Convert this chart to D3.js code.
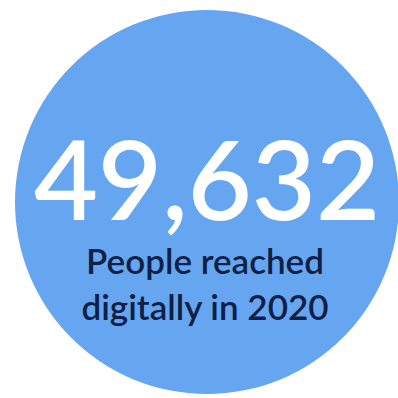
<!DOCTYPE html>
<html>
<head>
<meta charset="utf-8">
<script src="https://cdn.jsdelivr.net/npm/d3@7"></script>
<style>
  html, body { margin: 0; padding: 0; background: #ffffff; }
  svg { display: block; }
</style>
</head>
<body>
<svg id="chart" width="398" height="398"></svg>
<script>
// Headline figure and its caption
const metricValues = [49632];
const captionLines = ["People reached", "digitally in 2020"];

const width = 398, height = 398;
const svg = d3.select("#chart");

const cx = 207, cy = 202, r = 192;

// Bubble sized on a sqrt scale so the single value fills the disc
const rScale = d3.scaleSqrt().domain([0, d3.max(metricValues)]).range([0, r]);

svg.selectAll("circle.bubble")
  .data(metricValues)
  .join("circle")
  .attr("class", "bubble")
  .attr("cx", cx)
  .attr("cy", cy)
  .attr("r", d => rScale(d))
  .attr("fill", "#66a6f0");

const fmt = d3.format(",");

svg.selectAll("text.value")
  .data(metricValues)
  .join("text")
  .attr("class", "value")
  .attr("x", 207)
  .attr("y", 220)
  .attr("text-anchor", "middle")
  .attr("font-family", "Lato, 'Open Sans', sans-serif")
  .attr("font-size", 109)
  .attr("font-weight", 600)
  .attr("fill", "#ffffff")
  .attr("textLength", 346)
  .attr("lengthAdjust", "spacingAndGlyphs")
  .text(d => fmt(d));

svg.selectAll("text.caption")
  .data(captionLines)
  .join("text")
  .attr("class", "caption")
  .attr("x", 205)
  .attr("y", (d, i) => 274 + i * 46)
  .attr("text-anchor", "middle")
  .attr("font-family", "Lato, 'Open Sans', sans-serif")
  .attr("font-size", 35)
  .attr("font-weight", 600)
  .attr("fill", "#0f1f45")
  .text(d => d);
</script>
</body>
</html>
